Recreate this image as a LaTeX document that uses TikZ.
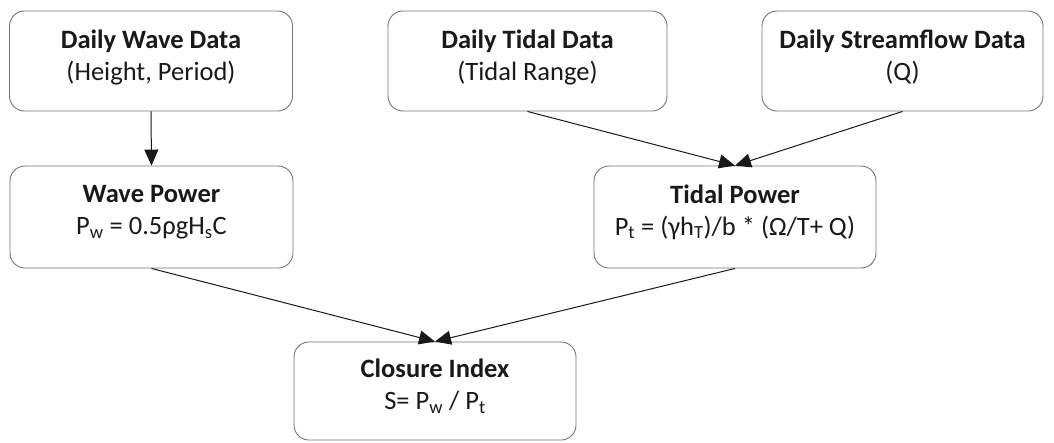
\documentclass[tikz,border=0pt]{standalone}
\usepackage{fontspec}
\setmainfont{Carlito}
\usetikzlibrary{arrows.meta}
\begin{document}
\begin{tikzpicture}[x=1pt,y=-1pt,
  stepbox/.style={draw=black!55, line width=0.9pt, rounded corners=15pt,
    inner sep=0pt},
  steptext/.style={align=center, inner sep=0pt, text=black!90,
    font=\fontsize{26.5}{32}\selectfont},
  flow/.style={draw=black!90, line width=1pt,
    -{Triangle[length=16pt,width=14pt]}}]
  \useasboundingbox (0,0) rectangle (1054,442);
  % input data
  \node[stepbox, minimum width=283pt, minimum height=100pt] (wd) at (151,61) {};
  \node[steptext] (wdt) at (151,57) {\textbf{Daily Wave Data}\\(Height, Period)};
  \node[stepbox, minimum width=279pt, minimum height=100pt] (td) at (527.5,61) {};
  \node[steptext] (tdt) at (527.5,57) {\textbf{Daily Tidal Data}\\(Tidal Range)};
  \node[stepbox, minimum width=281pt, minimum height=100pt] (sd) at (902.5,61) {};
  \node[steptext] (sdt) at (902.5,57) {\textbf{Daily Streamflow Data}\\(Q)};
  % power estimates
  \node[stepbox, minimum width=283pt, minimum height=102pt] (wp) at (151.5,217) {};
  \node[steptext] (wpt) at (151.5,212)
    {\textbf{Wave Power}\\P\textsubscript{w} = 0.5ρgH\textsubscript{s}C};
  \node[stepbox, minimum width=282pt, minimum height=102pt] (tp) at (735,217) {};
  \node[steptext] (tpt) at (735,212)
    {\textbf{Tidal Power}\\P\textsubscript{t} = (γh\textsubscript{T})/b * (Ω/T+ Q)};
  % result
  \node[stepbox, minimum width=282pt, minimum height=98pt] (ci) at (435,391) {};
  \node[steptext] (cit) at (435,386)
    {\textbf{Closure Index}\\S= P\textsubscript{w} / P\textsubscript{t}};
  % connectors
  \draw[flow] (wd.south) -- (wp.north);
  \draw[flow] (td.south) -- (tp.north);
  \draw[flow] (sd.south) -- (tp.north);
  \draw[flow] (wp.south) -- (ci.north);
  \draw[flow] (tp.south) -- (ci.north);
\end{tikzpicture}
\end{document}
